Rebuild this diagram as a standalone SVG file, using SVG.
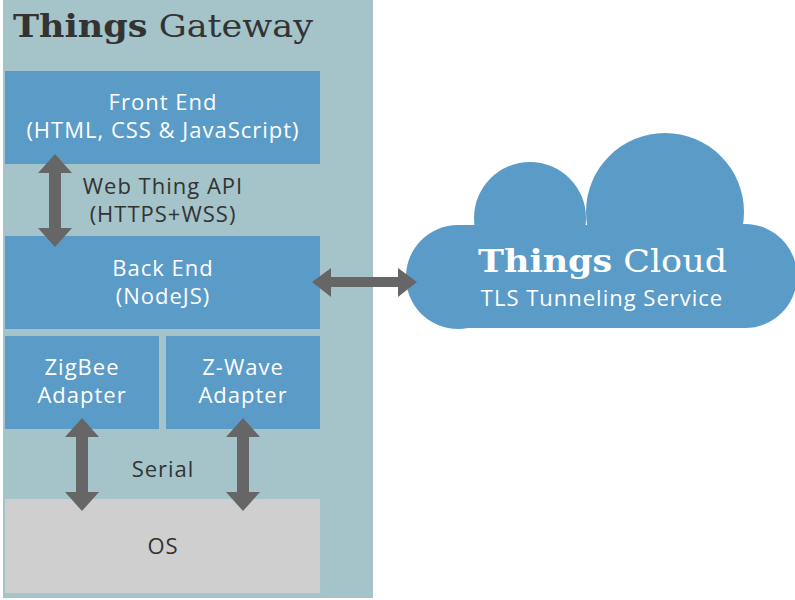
<svg xmlns="http://www.w3.org/2000/svg" width="795" height="600" viewBox="0 0 795 600">
<style>
.box{fill:#5b9bc8}
.os{fill:#cfcfcf}
.arrow{fill:#666666}
.lbl{font-family:"Open Sans","Noto Sans",sans-serif;font-size:22px;text-anchor:middle;letter-spacing:1px}
.w{fill:#ffffff}
.d{fill:#333333}
.slab{font-family:"DejaVu Serif","Liberation Serif",serif}
</style>
<rect width="795" height="600" fill="#ffffff"/>
<g id="gateway">
<rect x="3" y="0" width="370" height="598" fill="#a5c4c9"/>
<text x="13" y="37" class="slab d" font-size="32" textLength="300" lengthAdjust="spacingAndGlyphs"><tspan font-weight="bold">Things</tspan> Gateway</text>
</g>
<g id="frontend">
<rect class="box" x="5" y="71" width="315" height="93"/>
<text class="lbl w" x="163" y="110">Front End</text>
<text class="lbl w" x="163" y="138">(HTML, CSS &amp; JavaScript)</text>
</g>
<g id="backend">
<rect class="box" x="5" y="236" width="315" height="93"/>
<text class="lbl w" x="163" y="276">Back End</text>
<text class="lbl w" x="163" y="304">(NodeJS)</text>
</g>
<g id="zigbee">
<rect class="box" x="5" y="336" width="154" height="93"/>
<text class="lbl w" x="82" y="375">ZigBee</text>
<text class="lbl w" x="82" y="403">Adapter</text>
</g>
<g id="zwave">
<rect class="box" x="166" y="336" width="154" height="93"/>
<text class="lbl w" x="243" y="375">Z-Wave</text>
<text class="lbl w" x="243" y="403">Adapter</text>
</g>
<g id="os">
<rect class="os" x="5" y="499" width="315" height="94"/>
<text class="lbl d" x="163" y="554">OS</text>
</g>
<g id="cloud">
<g fill="#5b9bc8">
<circle cx="458" cy="277" r="52"/>
<circle cx="530" cy="218" r="56"/>
<circle cx="665" cy="212" r="79"/>
<circle cx="745" cy="276" r="52"/>
<rect x="458" y="225" width="287" height="103"/>
</g>
<text x="478" y="272" class="slab w" font-size="31" textLength="249" lengthAdjust="spacingAndGlyphs"><tspan font-weight="bold">Things</tspan> Cloud</text>
<text class="lbl w" x="602" y="306">TLS Tunneling Service</text>
</g>
<g id="connectors">
<polygon class="arrow" points="55,154 72,173 61,173 61,228 72,228 55,247 38,228 49,228 49,173 38,173"/>
<text class="lbl d" x="163" y="194">Web Thing API</text>
<text class="lbl d" x="163" y="222">(HTTPS+WSS)</text>
<polygon class="arrow" points="82,418 99,437 88,437 88,492 99,492 82,511 65,492 76,492 76,437 65,437"/>
<polygon class="arrow" points="243,418 260,437 249,437 249,492 260,492 243,511 226,492 237,492 237,437 226,437"/>
<text class="lbl d" x="163" y="477">Serial</text>
<polygon class="arrow" points="312,282 331,268 331,277 398,277 398,268 417,282 398,297 398,287 331,287 331,297"/>
</g>
</svg>
